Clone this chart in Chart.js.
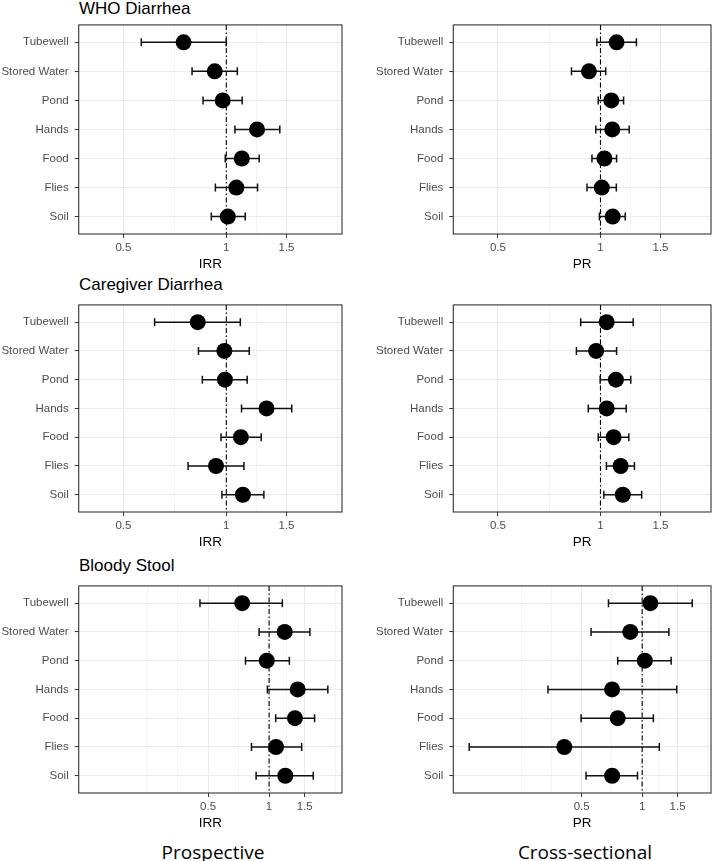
<!DOCTYPE html>
<html>
<head>
<meta charset="utf-8">
<script src="https://cdn.jsdelivr.net/npm/chart.js@4.4.1/dist/chart.umd.min.js"></script>
<style>
  html, body { margin: 0; padding: 0; background: #fff; }
  body { position: relative; width: 719px; height: 861px; overflow: hidden; font-family: 'Liberation Sans', Arial, Helvetica, sans-serif; }
  .panel { position: absolute; }
  .title { position: absolute; left: 79px; font-size: 17px; line-height: 17px; color: #000; white-space: nowrap; }
  .design { position: absolute; font-family: 'Open Sans', sans-serif; font-size: 19px; line-height: 20px; color: #000; white-space: nowrap; transform: translateX(-50%); }
</style>
</head>
<body>
<div class="title" style="top:0px">WHO Diarrhea</div>
<div class="title" style="top:276px">Caregiver Diarrhea</div>
<div class="title" style="top:557px">Bloody Stool</div>

<div class="panel" style="left:0;top:12px;width:350px;height:260px"><canvas id="c0"></canvas></div>
<div class="panel" style="left:360px;top:12px;width:359px;height:260px"><canvas id="c1"></canvas></div>
<div class="panel" style="left:0;top:292px;width:350px;height:258px"><canvas id="c2"></canvas></div>
<div class="panel" style="left:360px;top:292px;width:359px;height:258px"><canvas id="c3"></canvas></div>
<div class="panel" style="left:0;top:573px;width:350px;height:258px"><canvas id="c4"></canvas></div>
<div class="panel" style="left:360px;top:573px;width:359px;height:258px"><canvas id="c5"></canvas></div>

<div class="design" style="left:213px;top:842px">Prospective</div>
<div class="design" style="left:585px;top:842px">Cross-sectional</div>

<script>
const exposures = ['Tubewell', 'Stored Water', 'Pond', 'Hands', 'Food', 'Flies', 'Soil'];
const xTickLabels = [0.5, 1, 1.5];
const minorGrid = [0.25, 0.354, 0.707, 1.225, 2.121];

// WHO diarrhea
const whoIrr   = [0.75, 0.925, 0.976, 1.23, 1.11, 1.07, 1.01];
const whoIrrLo = [0.564, 0.794, 0.855, 1.06, 0.993, 0.929, 0.904];
const whoIrrHi = [1.0, 1.077, 1.113, 1.434, 1.248, 1.234, 1.136];
const whoPr    = [1.115, 0.925, 1.076, 1.083, 1.027, 1.009, 1.086];
const whoPrLo  = [0.976, 0.822, 0.985, 0.969, 0.944, 0.913, 0.993];
const whoPrHi  = [1.275, 1.036, 1.169, 1.214, 1.115, 1.113, 1.182];

// caregiver-reported diarrhea
const cgIrr   = [0.825, 0.987, 0.991, 1.311, 1.103, 0.933, 1.118];
const cgIrrLo = [0.617, 0.829, 0.851, 1.108, 0.965, 0.773, 0.971];
const cgIrrHi = [1.099, 1.167, 1.151, 1.554, 1.265, 1.126, 1.288];
const cgPr    = [1.043, 0.971, 1.11, 1.043, 1.093, 1.146, 1.163];
const cgPrLo  = [0.875, 0.85, 0.998, 0.921, 0.985, 1.041, 1.023];
const cgPrHi  = [1.247, 1.115, 1.227, 1.19, 1.211, 1.258, 1.321];

// bloody stool
const bsIrr   = [0.737, 1.194, 0.974, 1.384, 1.342, 1.082, 1.203];
const bsIrrLo = [0.456, 0.893, 0.765, 0.981, 1.078, 0.819, 0.863];
const bsIrrHi = [1.163, 1.591, 1.259, 1.95, 1.677, 1.448, 1.652];
const bsPr    = [1.099, 0.873, 1.031, 0.709, 0.756, 0.41, 0.709];
const bsPrLo  = [0.68, 0.557, 0.756, 0.34, 0.497, 0.138, 0.526];
const bsPrHi  = [1.775, 1.358, 1.394, 1.486, 1.137, 1.217, 0.948];

Chart.defaults.font.family = "'Liberation Sans', Arial, Helvetica, sans-serif";

// error bars, the null line at 1 and the panel border
function forest(lo, hi) {
  return {
    id: 'forest',
    beforeDatasetsDraw(chart) {
      const { ctx, chartArea, scales: { x, y } } = chart;
      ctx.save();
      const rx = x.getPixelForValue(1);
      ctx.strokeStyle = '#000';
      ctx.lineWidth = 1.1;
      ctx.setLineDash([5, 2.5, 1.5, 2.5]);
      ctx.beginPath();
      ctx.moveTo(rx, chartArea.top);
      ctx.lineTo(rx, chartArea.bottom);
      ctx.stroke();
      ctx.setLineDash([]);
      ctx.lineWidth = 1.5;
      ctx.strokeStyle = '#111';
      lo.forEach((l, i) => {
        const x1 = x.getPixelForValue(l), x2 = x.getPixelForValue(hi[i]);
        const py = y.getPixelForValue(i);
        ctx.beginPath();
        ctx.moveTo(x1, py); ctx.lineTo(x2, py);
        ctx.moveTo(x1, py - 4); ctx.lineTo(x1, py + 4);
        ctx.moveTo(x2, py - 4); ctx.lineTo(x2, py + 4);
        ctx.stroke();
      });
      ctx.restore();
    },
    afterDraw(chart) {
      const { ctx, chartArea: a } = chart;
      ctx.save();
      ctx.strokeStyle = '#333';
      ctx.lineWidth = 1.1;
      ctx.strokeRect(a.left, a.top, a.right - a.left, a.bottom - a.top);
      ctx.restore();
    }
  };
}

function makePanel(id, est, lo, hi, xTitle, xMin, xMax, axisWidth, padRight) {
  new Chart(document.getElementById(id), {
    type: 'scatter',
    data: {
      datasets: [{
        data: est.map((v, i) => ({ x: v, y: i })),
        pointRadius: 8,
        pointBackgroundColor: '#000',
        pointBorderWidth: 0
      }]
    },
    options: {
      responsive: true,
      maintainAspectRatio: false,
      animation: false,
      events: [],
      layout: { padding: { top: 10, right: padRight, left: 0, bottom: 0 } },
      plugins: { legend: { display: false }, tooltip: { enabled: false } },
      scales: {
        x: {
          type: 'logarithmic',
          bounds: 'data',
          min: xMin,
          max: xMax,
          afterBuildTicks: s => {
            s.ticks = xTickLabels.concat(minorGrid)
              .filter(v => v > xMin && v < xMax)
              .sort((a, b) => a - b)
              .map(v => ({ value: v }));
          },
          afterFit: s => { s.height = 38; },
          ticks: {
            autoSkip: false,
            maxRotation: 0,
            padding: 2.5,
            color: '#4d4d4d',
            font: { size: 11.5 },
            callback: v => xTickLabels.includes(v) ? String(v) : ''
          },
          grid: {
            color: '#ebebeb',
            lineWidth: c => xTickLabels.includes(c.tick && c.tick.value) ? 1.1 : 0.6,
            tickLength: 4,
            tickColor: c => xTickLabels.includes(c.tick && c.tick.value) ? '#333' : 'rgba(0,0,0,0)',
            tickWidth: 1
          },
          border: { display: false },
          title: { display: true, text: xTitle, color: '#000', font: { size: 13.5 }, padding: { top: 0, bottom: 0 } }
        },
        y: {
          type: 'linear',
          reverse: true,
          bounds: 'data',
          min: -0.6,
          max: 6.6,
          afterBuildTicks: s => { s.ticks = exposures.map((_, i) => ({ value: i })); },
          afterFit: s => { s.width = axisWidth; },
          ticks: {
            autoSkip: false,
            padding: 6,
            color: '#4d4d4d',
            font: { size: 11.5 },
            callback: v => exposures[v]
          },
          grid: { color: '#ebebeb', lineWidth: 1.1, tickLength: 4, tickColor: '#333', tickWidth: 1 },
          border: { display: false }
        }
      }
    },
    plugins: [forest(lo, hi)]
  });
}

makePanel('c0', whoIrr, whoIrrLo, whoIrrHi, 'IRR', 0.37, 2.18, 78.7, 6.7);
makePanel('c1', whoPr, whoPrLo, whoPrHi, 'PR', 0.37, 2.11, 93.3, 5);
makePanel('c2', cgIrr, cgIrrLo, cgIrrHi, 'IRR', 0.37, 2.18, 78.7, 6.7);
makePanel('c3', cgPr, cgPrLo, cgPrHi, 'PR', 0.37, 2.11, 93.3, 5);
makePanel('c4', bsIrr, bsIrrLo, bsIrrHi, 'IRR', 0.115, 2.29, 78.7, 6.7);
makePanel('c5', bsPr, bsPrLo, bsPrHi, 'PR', 0.115, 2.2, 93.3, 5);
</script>
</body>
</html>
